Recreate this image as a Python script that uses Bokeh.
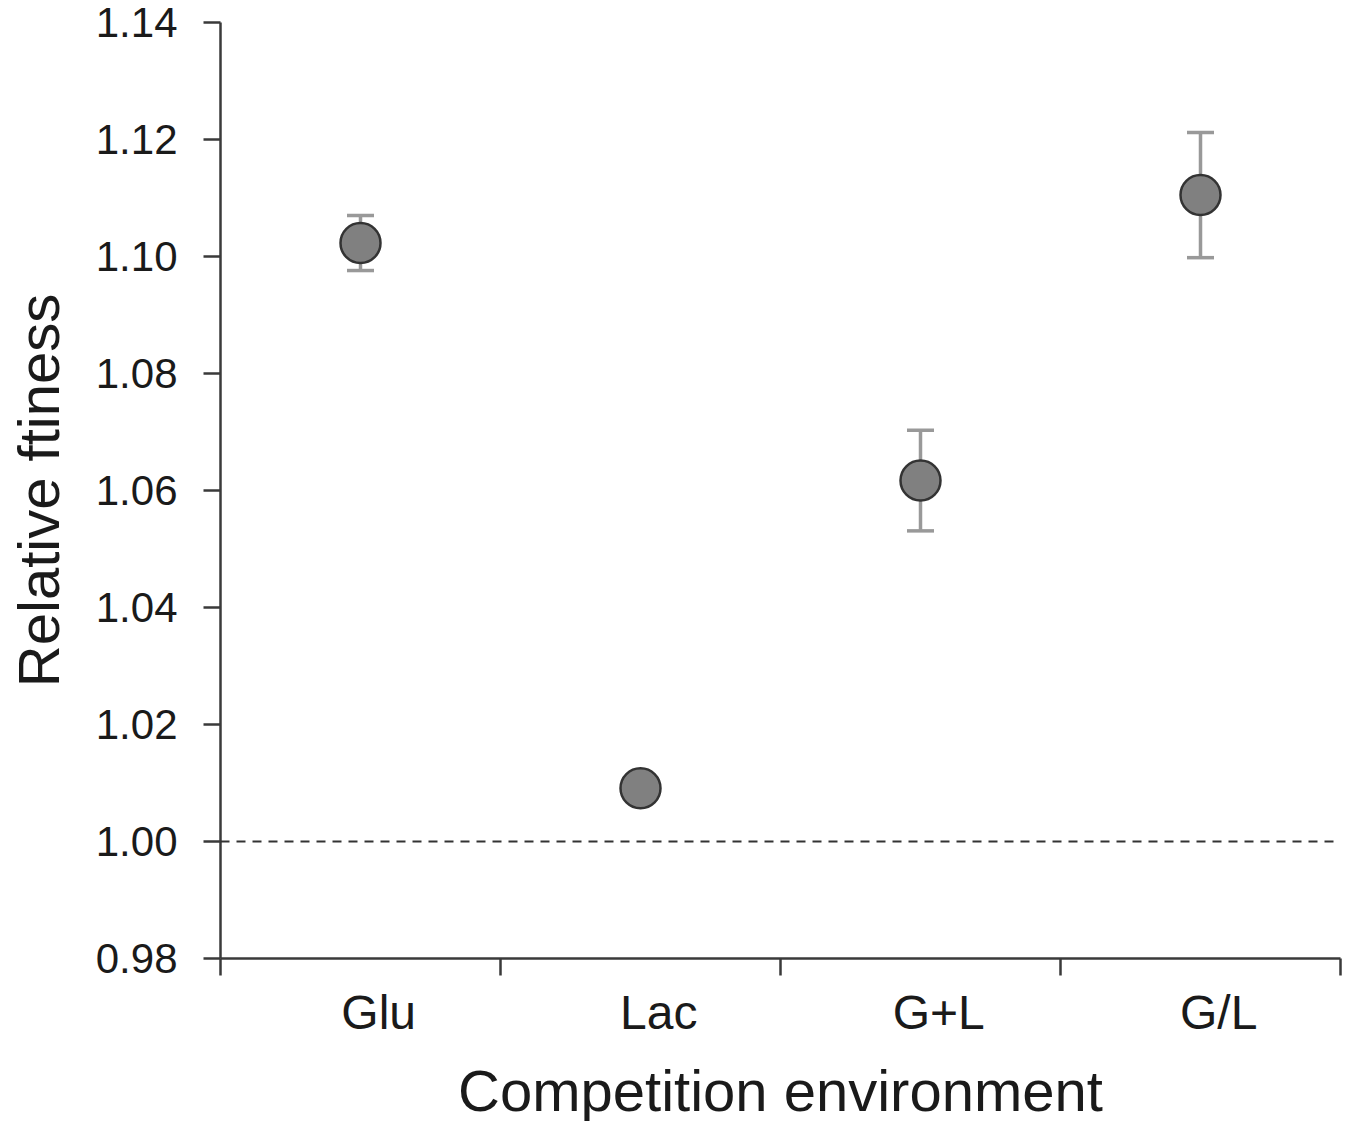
from bokeh.plotting import figure
from bokeh.models import ColumnDataSource, Whisker, TeeHead, Span, FixedTicker, Range1d, PrintfTickFormatter
from bokeh.embed import file_html
from bokeh.resources import INLINE

categories = ["Glu", "Lac", "G+L", "G/L"]
fitness = [1.1023, 1.0091, 1.0617, 1.1105]
errors = [0.0047, 0.002, 0.0086, 0.0107]
y_ticks = [0.98, 1.00, 1.02, 1.04, 1.06, 1.08, 1.10, 1.12, 1.14]
reference_level = 1.00

xs = [i + 0.5 for i in range(len(categories))]
label_shift = 0.065  # category labels sit slightly right of the markers in the original
label_pos = [x + label_shift for x in xs]
src = ColumnDataSource(dict(
    x=xs, y=fitness,
    upper=[f + e for f, e in zip(fitness, errors)],
    lower=[f - e for f, e in zip(fitness, errors)],
))

FONT = "Liberation Sans"
AXIS_COL = "#3a3a3a"

p = figure(width=1344, height=1125, output_backend="svg", toolbar_location=None,
           x_range=Range1d(0, len(categories)), y_range=Range1d(y_ticks[0], y_ticks[-1]),
           min_border_left=220, min_border_right=4, min_border_top=22, min_border_bottom=160)
p.outline_line_color = None
p.xgrid.visible = False
p.ygrid.visible = False
p.background_fill_color = "white"

# x axis: category labels, ticks between categories
p.xaxis.ticker = FixedTicker(ticks=label_pos, minor_ticks=list(range(len(categories) + 1)))
p.xaxis.major_label_overrides = {x: c for x, c in zip(label_pos, categories)}
p.xaxis.major_tick_out = 0
p.xaxis.major_tick_in = 0
p.xaxis.minor_tick_out = 17
p.xaxis.minor_tick_in = 0
p.xaxis.minor_tick_line_color = AXIS_COL
p.xaxis.minor_tick_line_width = 2.5
p.xaxis.axis_label = "Competition environment"

# y axis
p.yaxis.ticker = FixedTicker(ticks=y_ticks)
p.yaxis.formatter = PrintfTickFormatter(format="%.2f")
p.yaxis.major_tick_out = 17
p.yaxis.major_tick_in = 0
p.yaxis.minor_tick_out = 0
p.yaxis.minor_tick_in = 0
p.yaxis.axis_label = "Relative ftiness"

for ax in (p.xaxis, p.yaxis):
    ax.axis_line_color = AXIS_COL
    ax.axis_line_width = 2.5
    ax.major_tick_line_color = AXIS_COL
    ax.major_tick_line_width = 2.5
    ax.major_label_text_font = FONT
    ax.major_label_text_color = "#1a1a1a"
    ax.axis_label_text_font = FONT
    ax.axis_label_text_font_size = "58px"
    ax.axis_label_text_font_style = "normal"
    ax.axis_label_text_color = "#1a1a1a"

p.xaxis.major_label_text_font_size = "48px"
p.yaxis.major_label_text_font_size = "42px"
p.xaxis.major_label_standoff = 10
p.xaxis.axis_label_standoff = 16
p.yaxis.major_label_standoff = 26
p.yaxis.axis_label_standoff = 22

p.add_layout(Span(location=reference_level, dimension="width", line_color="#333333",
                  line_width=2, line_dash="9 7"))

p.add_layout(Whisker(source=src, base="x", upper="upper", lower="lower",
                     line_color="#999999", line_width=3.5,
                     upper_head=TeeHead(size=27, line_color="#999999", line_width=3.5),
                     lower_head=TeeHead(size=27, line_color="#999999", line_width=3.5)))

p.scatter("x", "y", source=src, size=40, fill_color="#808080",
          line_color="#333333", line_width=2.5)

open("out.html", "w").write(file_html(p, INLINE))
